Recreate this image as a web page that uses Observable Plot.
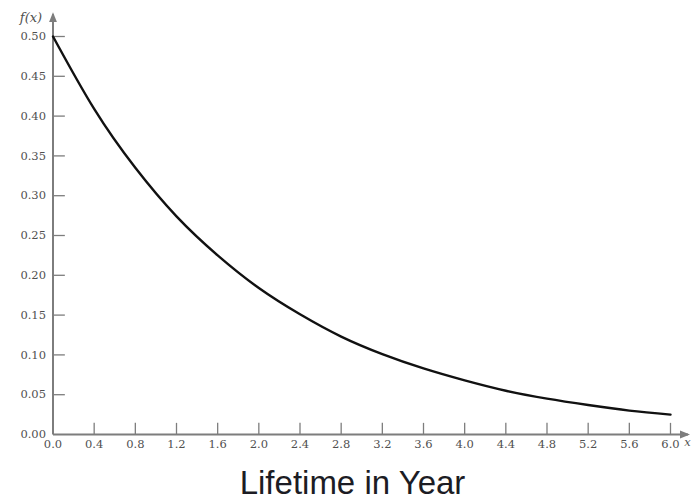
<!DOCTYPE html>
<html>
<head>
<meta charset="utf-8">
<script src="https://cdn.jsdelivr.net/npm/d3@7"></script>
<script src="https://cdn.jsdelivr.net/npm/@observablehq/plot@0.6"></script>
<style>
  html, body { margin: 0; padding: 0; background: #fff; overflow: hidden; }
  #chart svg { display: block; }
  #title {
    font-family: "Liberation Sans", Arial, sans-serif;
    font-size: 33px;
    color: #1c1c24;
    text-align: center;
    width: 693px;
    padding-left: 12px;
    box-sizing: border-box;
    line-height: 33px;
    margin-top: -4px;
  }
</style>
</head>
<body>
<div id="chart"></div>
<div id="title">Lifetime in Year</div>
<script>
// Lifetime density f(x), sampled every 0.4 years
const lifetimeYears = [0.0, 0.4, 0.8, 1.2, 1.6, 2.0, 2.4, 2.8, 3.2, 3.6, 4.0, 4.4, 4.8, 5.2, 5.6, 6.0];
const density = [0.500, 0.409, 0.335, 0.274, 0.225, 0.184, 0.151, 0.123, 0.101, 0.083, 0.068, 0.055, 0.045, 0.037, 0.030, 0.025];

// Axis ticks
const xTicks = [0.0, 0.4, 0.8, 1.2, 1.6, 2.0, 2.4, 2.8, 3.2, 3.6, 4.0, 4.4, 4.8, 5.2, 5.6, 6.0];
const yTicks = [0.00, 0.05, 0.10, 0.15, 0.20, 0.25, 0.30, 0.35, 0.40, 0.45, 0.50];

const curve = lifetimeYears.map((x, i) => ({x, y: density[i]}));

const axisColor = "#7d7d7d";
const labelColor = "#505050";
const serif = "'DejaVu Serif', 'Liberation Serif', serif";

// small filled arrowhead for the axis ends
const arrowHead = (color) => {
  const m = d3.create("svg:marker")
    .attr("viewBox", "0 -5 10 10")
    .attr("markerWidth", 5)
    .attr("markerHeight", 5)
    .attr("markerUnits", "strokeWidth")
    .attr("refX", 8)
    .attr("orient", "auto");
  m.append("path").attr("d", "M0,-4L10,0L0,4Z").attr("fill", color).attr("stroke", "none");
  return m.node();
};

const chart = Plot.plot({
  width: 693,
  height: 470,
  marginLeft: 52.5,
  marginRight: 23,
  marginTop: 36,
  marginBottom: 36,
  x: {domain: [0, 6]},
  y: {domain: [0, 0.5]},
  style: {background: "#fff"},
  marks: [
    // inner tick marks
    Plot.ruleY(yTicks.filter(d => d > 0), {y: d => d, x1: 0, x2: 0.12, stroke: axisColor, strokeWidth: 1.3}),
    Plot.ruleX(xTicks.filter(d => d > 0), {x: d => d, y1: 0, y2: 0.014, stroke: axisColor, strokeWidth: 1.3}),
    // axis lines with arrowheads
    Plot.link([{x1: 0, y1: 0, x2: 0, y2: 0.528}], {x1: "x1", y1: "y1", x2: "x2", y2: "y2", stroke: axisColor, strokeWidth: 2, markerEnd: arrowHead, clip: false}),
    Plot.link([{x1: 0, y1: 0, x2: 6.17, y2: 0}], {x1: "x1", y1: "y1", x2: "x2", y2: "y2", stroke: axisColor, strokeWidth: 2, markerEnd: arrowHead, clip: false}),
    // tick labels
    Plot.axisY(yTicks, {tickSize: 0, tickPadding: 7, tickFormat: d3.format(".2f"), fontFamily: serif, fontSize: 11.5, fill: labelColor, style: "letter-spacing:1.1px", label: null}),
    Plot.axisX(xTicks, {tickSize: 0, tickPadding: 5, tickFormat: d3.format(".1f"), fontFamily: serif, fontSize: 11.5, fill: labelColor, style: "letter-spacing:0.8px", label: null}),
    // axis names
    Plot.text(["f(x)"], {x: 0, y: 0.5, dx: -22, dy: -19, text: d => d, fontFamily: serif, fontStyle: "italic", fontSize: 13, fill: labelColor}),
    Plot.text(["x"], {x: 6, y: 0, dx: 17, dy: 8, text: d => d, fontFamily: serif, fontStyle: "italic", fontSize: 11.5, fill: labelColor}),
    // density curve
    Plot.line(curve, {x: "x", y: "y", curve: "natural", stroke: "#111", strokeWidth: 2.4})
  ]
});

document.getElementById("chart").append(chart);
</script>
</body>
</html>
